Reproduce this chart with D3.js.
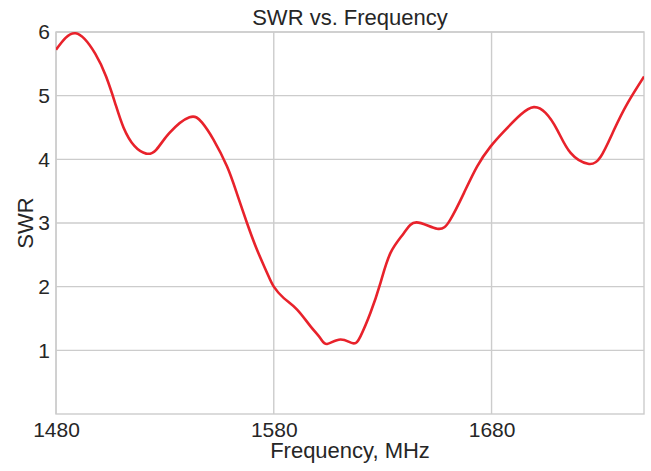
<!DOCTYPE html>
<html>
<head>
<meta charset="utf-8">
<script src="https://cdn.jsdelivr.net/npm/d3@7"></script>
<style>
  html, body { margin: 0; padding: 0; background: #fff; }
  svg { display: block; font-family: "Liberation Sans", Arial, Helvetica, sans-serif; }
</style>
</head>
<body>
<svg id="chart" width="651" height="471"></svg>
<script>
const frequency = [1480, 1489, 1498, 1503, 1507, 1511, 1516, 1521.4, 1526, 1532, 1541.3, 1547, 1552.3, 1558.5, 1563, 1567.7, 1572.3, 1577, 1580, 1584.6, 1590.7, 1596.8, 1601.4, 1604.5, 1610.6, 1616.4, 1619.8, 1624.4, 1629, 1633.6, 1639.7, 1645.5, 1655, 1661, 1667.3, 1673.4, 1679.5, 1685.7, 1693.3, 1699.4, 1704.8, 1710.2, 1716.3, 1724.3, 1730.1, 1736.2, 1742.4, 1750];
const swr = [5.72, 5.98, 5.66, 5.30, 4.90, 4.50, 4.21, 4.09, 4.15, 4.41, 4.66, 4.58, 4.31, 3.89, 3.47, 3.00, 2.58, 2.21, 2.00, 1.82, 1.64, 1.38, 1.19, 1.10, 1.17, 1.11, 1.22, 1.59, 2.06, 2.53, 2.84, 3.01, 2.91, 3.05, 3.47, 3.89, 4.20, 4.44, 4.70, 4.82, 4.73, 4.46, 4.10, 3.93, 4.04, 4.46, 4.88, 5.30];
const xTicks = [1480, 1580, 1680];
const yTicks = [1, 2, 3, 4, 5, 6];
const xDomain = [1480, 1750];
const yDomain = [0, 6];
const titleText = "SWR vs. Frequency";
const xLabel = "Frequency, MHz";
const yLabel = "SWR";

const svg = d3.select("#chart");
const m = { left: 56, right: 644, top: 32, bottom: 414 };
const x = d3.scaleLinear().domain(xDomain).range([m.left, m.right]);
const y = d3.scaleLinear().domain(yDomain).range([m.bottom, m.top]);
const gridColor = "#cccccc";
const textColor = "#262626";

// grid
const g = svg.append("g");
g.selectAll(".gx").data(xTicks).join("line")
  .attr("x1", d => x(d)).attr("x2", d => x(d))
  .attr("y1", m.top).attr("y2", m.bottom)
  .attr("stroke", gridColor).attr("stroke-width", 1.4);
g.selectAll(".gy").data(yTicks).join("line")
  .attr("x1", m.left).attr("x2", m.right)
  .attr("y1", d => y(d)).attr("y2", d => y(d))
  .attr("stroke", gridColor).attr("stroke-width", 1.4);

// spines
svg.append("rect")
  .attr("x", m.left).attr("y", m.top)
  .attr("width", m.right - m.left).attr("height", m.bottom - m.top)
  .attr("fill", "none").attr("stroke", gridColor).attr("stroke-width", 1.4);

// axes (labels only)
const xAxis = d3.axisBottom(x).tickValues(xTicks).tickSize(0).tickPadding(8).tickFormat(d3.format("d"));
const gx = svg.append("g").attr("transform", `translate(0,${m.bottom})`).call(xAxis);
gx.select(".domain").remove();
gx.selectAll("text").attr("font-size", 21).attr("fill", textColor)
  .attr("font-family", "Liberation Sans, Arial, sans-serif");

const yAxis = d3.axisLeft(y).tickValues(yTicks).tickSize(0).tickPadding(6).tickFormat(d3.format("d"));
const gy = svg.append("g").attr("transform", `translate(${m.left},0)`).call(yAxis);
gy.select(".domain").remove();
gy.selectAll("text").attr("font-size", 21).attr("fill", textColor)
  .attr("font-family", "Liberation Sans, Arial, sans-serif");

// clip
svg.append("clipPath").attr("id", "clip").append("rect")
  .attr("x", m.left).attr("y", m.top - 5)
  .attr("width", m.right - m.left).attr("height", m.bottom - m.top + 10);

const pts = frequency.map((f, i) => [f, swr[i]]);
const line = d3.line().x(d => x(d[0])).y(d => y(d[1])).curve(d3.curveNatural);
svg.append("path").datum(pts)
  .attr("clip-path", "url(#clip)")
  .attr("d", line)
  .attr("fill", "none")
  .attr("stroke", "#e8222b")
  .attr("stroke-width", 2.6)
  .attr("stroke-linejoin", "round");

// title and labels
svg.append("text").attr("x", (m.left + m.right) / 2).attr("y", 25)
  .attr("text-anchor", "middle").attr("font-size", 22).attr("fill", textColor)
  .text(titleText);
svg.append("text").attr("x", (m.left + m.right) / 2).attr("y", 458)
  .attr("text-anchor", "middle").attr("font-size", 22).attr("fill", textColor)
  .text(xLabel);
svg.append("text")
  .attr("transform", `translate(33,${(m.top + m.bottom) / 2}) rotate(-90)`)
  .attr("text-anchor", "middle").attr("font-size", 22).attr("fill", textColor)
  .text(yLabel);
</script>
</body>
</html>
